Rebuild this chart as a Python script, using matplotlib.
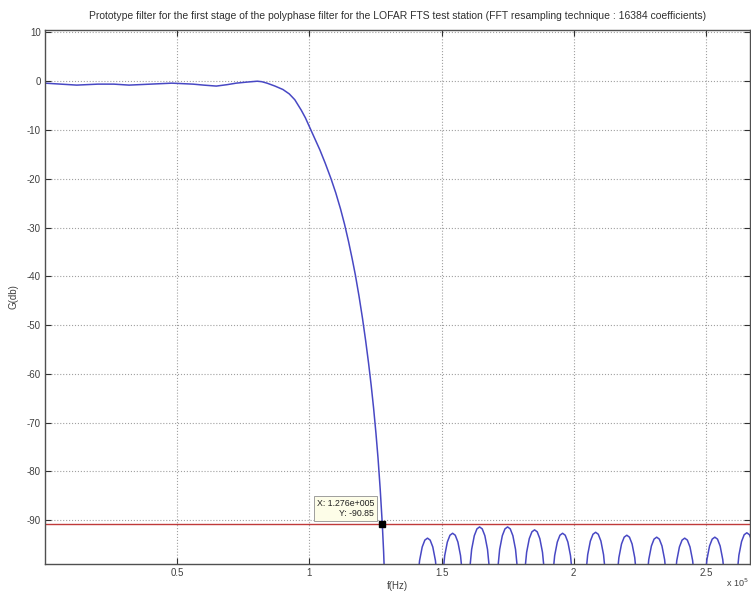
import matplotlib
matplotlib.use("Agg")
import matplotlib.pyplot as plt

# frequency in units of 1e5 Hz, gain in dB
pass_freq = [0.0, 0.03, 0.064, 0.12, 0.2, 0.26, 0.318, 0.4, 0.48, 0.56, 0.6, 0.648, 0.69, 0.723,
             0.76, 0.803, 0.82, 0.84, 0.87, 0.90, 0.924, 0.945, 0.969, 0.985, 1.0, 1.02, 1.04,
             1.06, 1.082, 1.1, 1.118, 1.133, 1.148, 1.162, 1.174, 1.188, 1.201, 1.213, 1.224,
             1.234, 1.243, 1.252, 1.260, 1.268, 1.276, 1.281, 1.286]
pass_gain = [-0.4, -0.5, -0.6, -0.8, -0.6, -0.6, -0.8, -0.6, -0.4, -0.6, -0.8, -1.0, -0.7, -0.4,
             -0.2, 0.0, -0.1, -0.4, -1.0, -1.7, -2.6, -3.8, -5.9, -7.5, -9.3, -11.7, -14.1,
             -16.8, -20.0, -22.9, -26.2, -29.3, -32.8, -36.4, -39.7, -44.1, -48.6, -53.2, -57.8,
             -62.4, -67.0, -72.2, -77.4, -83.6, -90.85, -96.5, -104.0]

side_freq = [1.407, 1.417, 1.427, 1.437, 1.447, 1.457, 1.467, 1.477, 1.487,
             1.502, 1.512, 1.522, 1.532, 1.542, 1.552, 1.562, 1.572, 1.582,
             1.604, 1.614, 1.624, 1.634, 1.644, 1.654, 1.664, 1.674, 1.684,
             1.710, 1.720, 1.730, 1.740, 1.750, 1.760, 1.770, 1.780, 1.790,
             1.812, 1.822, 1.832, 1.842, 1.852, 1.862, 1.872, 1.882, 1.892,
             1.918, 1.928, 1.938, 1.948, 1.958, 1.968, 1.978, 1.988, 1.998,
             2.043, 2.053, 2.063, 2.073, 2.083, 2.093, 2.103, 2.113, 2.123,
             2.161, 2.171, 2.181, 2.191, 2.201, 2.211, 2.221, 2.231, 2.241,
             2.274, 2.284, 2.294, 2.304, 2.314, 2.324, 2.334, 2.344, 2.354,
             2.380, 2.390, 2.400, 2.410, 2.420, 2.430, 2.440, 2.450, 2.460,
             2.494, 2.504, 2.514, 2.524, 2.534, 2.544, 2.554, 2.564, 2.574,
             2.615, 2.625, 2.635, 2.645, 2.655, 2.665, 2.675]
side_gain = [-103.9, -98.3, -95.5, -94.1, -93.7, -94.1, -95.5, -98.3, -103.9,
             -102.9, -97.3, -94.5, -93.1, -92.7, -93.1, -94.5, -97.3, -102.9,
             -101.6, -96.0, -93.2, -91.8, -91.4, -91.8, -93.2, -96.0, -101.6,
             -101.6, -96.0, -93.2, -91.8, -91.4, -91.8, -93.2, -96.0, -101.6,
             -102.2, -96.6, -93.8, -92.4, -92.0, -92.4, -93.8, -96.6, -102.2,
             -102.9, -97.3, -94.5, -93.1, -92.7, -93.1, -94.5, -97.3, -102.9,
             -102.7, -97.1, -94.3, -92.9, -92.5, -92.9, -94.3, -97.1, -102.7,
             -103.3, -97.7, -94.9, -93.5, -93.1, -93.5, -94.9, -97.7, -103.3,
             -103.7, -98.1, -95.3, -93.9, -93.5, -93.9, -95.3, -98.1, -103.7,
             -103.9, -98.3, -95.5, -94.1, -93.7, -94.1, -95.5, -98.3, -103.9,
             -103.7, -98.1, -95.3, -93.9, -93.5, -93.9, -95.3, -98.1, -103.7,
             -102.8, -97.2, -94.4, -93.0, -92.6, -93.0, -94.4]

threshold = -90.85
cursor_x = 1.276
cursor_y = -90.85

x_ticks = [0.5, 1, 1.5, 2, 2.5]
x_labels = ["0.5", "1", "1.5", "2", "2.5"]
y_ticks = [10, 0, -10, -20, -30, -40, -50, -60, -70, -80, -90]

plt.rcParams['font.family'] = ['Liberation Sans', 'DejaVu Sans']
plt.rcParams['axes.unicode_minus'] = False

fig = plt.figure(figsize=(7.51, 5.94), dpi=100)
ax = fig.add_axes([45 / 751, 30 / 594, 705 / 751, 534 / 594])

line_freq = pass_freq + side_freq
line_gain = pass_gain + side_gain
ax.plot(line_freq, line_gain, color="#4848c4", lw=1.1)
ax.axhline(threshold, color="#c03a3a", lw=1.0)

# data cursor
ax.plot([cursor_x], [cursor_y], marker="s", color="black", ms=5, zorder=5)
ax.annotate("X: 1.276e+005\nY: -90.85", xy=(cursor_x, cursor_y), xytext=(-8, 6),
            textcoords="offset pixels", ha="right", va="bottom", multialignment="right",
            fontsize=6.3, color="#202020",
            bbox=dict(boxstyle="square,pad=0.35", fc="#fdfde8", ec="#909090", lw=0.6))

ax.set_xlim(0, 2.667)
ax.set_ylim(-99, 10.5)
ax.set_xticks(x_ticks)
ax.set_xticklabels(x_labels)
ax.set_yticks(y_ticks)

ax.grid(True, linestyle=":", color="#a0a0a0", lw=0.8)
ax.tick_params(direction="in", length=4, top=True, right=True, labelsize=7,
               colors="#303030", labelcolor="#404040", pad=3)
for s in ax.spines.values():
    s.set_color("#505050")
    s.set_linewidth(1.0)

ax.set_title("Prototype filter for the first stage of the polyphase filter for the LOFAR FTS test station "
             "(FFT resampling technique : 16384 coefficients)", fontsize=7.5, color="#303030", pad=8)
ax.set_xlabel("f(Hz)", fontsize=7, color="#404040", labelpad=2)
ax.set_ylabel("G(db)", fontsize=7, color="#404040", labelpad=6)
fig.text(0.997, 0.008, "x 10$^5$", ha="right", va="bottom", fontsize=6.5, color="#404040")

fig.savefig("out.png", dpi=100)
